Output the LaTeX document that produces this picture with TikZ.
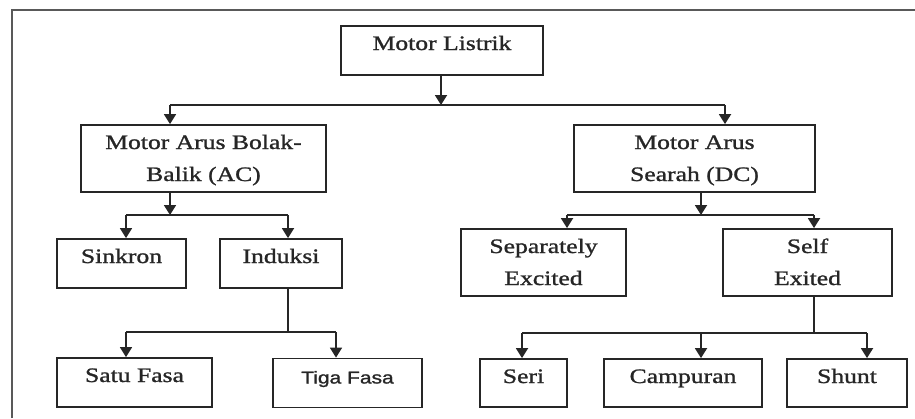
\documentclass[tikz,border=0pt]{standalone}
\usepackage{fontspec}
\setmainfont{Liberation Serif}[FakeStretch=1.25,FakeBold=1.2]
\newfontfamily\arialx{Liberation Sans}[FakeStretch=1.22,FakeBold=1.3]
\usetikzlibrary{arrows.meta,calc}
\tikzset{
  box/.style={draw=black!85, line width=1.8pt, inner sep=0pt, text height=24pt,
    text=black!85, font=\fontsize{20.5}{32}\selectfont},
  arr/.style={draw=black!85, line width=1.8pt, -{Triangle[width=12pt,length=10pt]}},
  ln/.style={draw=black!85, line width=1.8pt},
  frame/.style={draw=black!65, line width=1.8pt},
}
\newcommand{\twoline}[2]{\begin{tabular}[t]{@{}c@{}}#1\\#2\end{tabular}}
\begin{document}
\begin{tikzpicture}[x=1pt,y=-1pt]
\useasboundingbox (0,0) rectangle (915,418);
\draw[frame] (12,418) -- (12,10) -- (915,10);

% boxes
\node[box, minimum width=202pt, text depth=25pt] (ml) at (442,50.5) {Motor Listrik};
\node[box, minimum width=245pt, text depth=43pt] (ac) at (203.5,158.5) {\twoline{Motor Arus Bolak-}{Balik (AC)}};
\node[box, minimum width=241pt, text depth=43pt] (dc) at (694.5,158.5) {\twoline{Motor Arus}{Searah (DC)}};
\node[box, minimum width=129pt, text depth=25pt] (sink) at (121.5,263.5) {Sinkron};
\node[box, minimum width=122pt, text depth=25pt] (ind) at (281,263.5) {Induksi};
\node[box, minimum width=155pt, text depth=25pt] (satu) at (134.5,382.5) {Satu Fasa};
\node[box, minimum width=149pt, text depth=24pt, text height=25pt, font=\arialx\fontsize{17.2}{20}\selectfont] (tiga) at (347.5,383) {Tiga Fasa};
\node[box, minimum width=165pt, text depth=43pt] (sep) at (543.5,262.5) {\twoline{Separately}{Excited}};
\node[box, minimum width=169pt, text depth=43pt] (self) at (807.5,262.5) {\twoline{Self}{Exited}};
\node[box, minimum width=87pt, text depth=24pt] (seri) at (523.5,383) {Seri};
\node[box, minimum width=158pt, text depth=24pt] (camp) at (683,383) {Campuran};
\node[box, minimum width=120pt, text depth=24pt] (shunt) at (847,383) {Shunt};

% level 1
\coordinate (j0) at (441,105);
\coordinate (j1l) at (170,105);
\coordinate (j1r) at (725,105);
\draw[arr] (j0 |- ml.south) -- (j0);
\draw[ln] (j1l) -- (j1r);
\draw[arr] (j1l) -- (j1l |- ac.north);
\draw[arr] (j1r) -- (j1r |- dc.north);

% AC branch
\coordinate (a0) at (170,215);
\coordinate (a1) at (126,215);
\coordinate (a2) at (288,215);
\draw[arr] (a0 |- ac.south) -- (a0);
\draw[ln] (a1) -- (a2);
\draw[arr] (a1) -- (a1 |- sink.north);
\draw[arr] (a2) -- (a2 |- ind.north);

% Induksi branch
\coordinate (b0) at (288,332);
\coordinate (b1) at (126,332);
\coordinate (b2) at (336,332);
\draw[ln] (b0 |- ind.south) -- (b0);
\draw[ln] (b1) -- (b2);
\draw[arr] (b1) -- (b1 |- satu.north);
\draw[arr] (b2) -- (b2 |- tiga.north);

% DC branch
\coordinate (c0) at (701,215);
\coordinate (c1) at (567,215);
\coordinate (c2) at (814,215);
\draw[arr] (c0 |- dc.south) -- (c0);
\draw[ln] (c1) -- (c2);
\draw[arr] (c1) -- (c1 |- sep.north);
\draw[arr] (c2) -- (c2 |- self.north);

% Self Exited branch
\coordinate (d0) at (814,333);
\coordinate (d1) at (522,333);
\coordinate (dm) at (701,333);
\coordinate (d2) at (867,333);
\draw[ln] (d0 |- self.south) -- (d0);
\draw[ln] (d1) -- (d2);
\draw[arr] (d1) -- (d1 |- seri.north);
\draw[arr] (dm) -- (dm |- camp.north);
\draw[arr] (d2) -- (d2 |- shunt.north);
\end{tikzpicture}
\end{document}
